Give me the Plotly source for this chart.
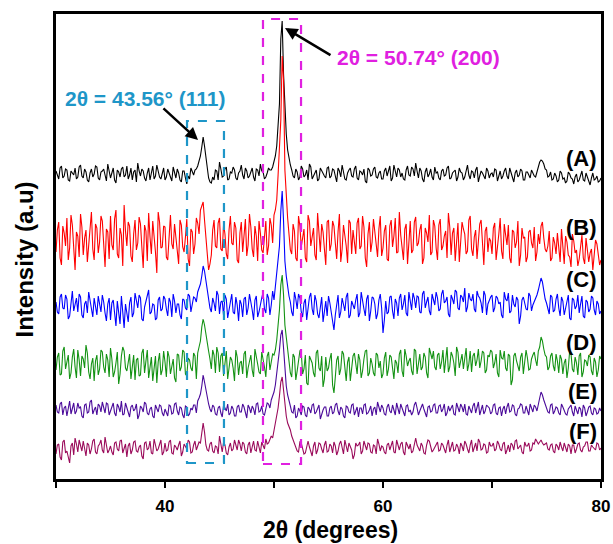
import numpy as np
import plotly.graph_objects as go

# 2-theta grid (degrees): main samples every 0.25 and the in-between samples
two_theta_main = np.round(np.arange(30, 80.001, 0.25), 3)      # 201 points
two_theta_mid = np.round(np.arange(30.125, 79.9, 0.25), 3)     # 200 points

# Stacking offsets of each pattern (a.u.)
offsets = {"A": 305, "B": 239, "C": 173, "D": 114, "E": 69, "F": 31}
colors = {"A": "#000000", "B": "#ff0000", "C": "#0000ff", "D": "#139213", "E": "#4a0a9a", "F": "#9a0a5a"}

# ---- intensities at main samples (relative to each baseline) ----
int_A = [3,-5,8,-2,4,-7,1,6,-3,9,-4,2,-8,5,0,7,-6,3,-1,10,
         -4,6,-9,2,5,-3,8,-1,-6,4,11,-2,3,-7,6,1,-5,9,-3,2,
         -6,5,-2,7,-4,1,-8,3,-10,-5,2,4,8,18,37,16,-4,-9,-6,3,
         12,-3,5,-6,2,7,-4,1,9,-5,3,-2,6,-7,4,10,2,-3,6,4,
         12,28,70,153,62,24,9,-2,5,-6,8,-3,4,10,-5,2,-7,6,1,-4,
         7,-2,4,-8,3,9,-5,1,6,-3,8,-6,2,5,-9,4,-1,7,-4,3,
         -5,6,2,-7,9,-3,4,1,-6,8,-2,5,11,-4,3,-8,6,0,-3,7,
         2,-6,5,-1,8,-4,3,-7,6,1,-3,9,-5,2,4,-8,3,-2,6,-4,
         1,5,-7,3,-2,6,-5,2,-8,4,-1,3,-6,2,-4,1,-3,8,14,10,
         4,-2,-6,1,-8,3,-5,-9,2,-4,-10,0,-6,3,-7,-3,-11,1,-5,-8,-4]

int_B = [-12,18,-25,7,22,-8,15,-30,4,26,-15,10,-5,28,-20,12,-2,19,-27,8,
         24,-10,30,-18,5,35,-6,14,-22,20,-3,16,-28,9,27,-14,6,-33,18,-7,
         13,-20,25,-9,4,-24,15,-12,21,-26,8,-4,17,30,38,5,-30,-15,20,-8,
         22,-11,6,-19,24,-5,12,-23,18,2,-16,26,-9,14,-21,7,-13,19,-6,15,
         25,40,95,184,70,22,-10,16,-18,24,-7,11,-22,19,3,-15,27,-12,8,-25,
         20,-4,14,-19,26,-9,5,-23,17,10,-14,22,-6,13,-27,18,-2,9,-17,24,
         -8,15,-21,20,4,-13,28,-5,11,-24,19,-10,23,-3,16,-18,7,25,-12,14,
         -20,21,-6,9,27,-15,12,-1,-22,18,6,-11,24,-16,10,-4,20,-25,13,2,
         -14,17,-9,22,-19,5,15,-23,8,-2,-26,12,3,-17,10,-8,-21,6,14,2,
         -12,9,-18,-3,7,-22,-6,4,-15,-27,-1,-10,-19,5,-24,-8,-13,-30,0,-16,-20]

int_C = [4,-8,12,-3,7,-10,15,1,-6,9,-12,5,14,-4,8,-9,3,11,-7,2,
         -14,6,-20,-5,10,-22,-8,3,-11,13,-2,8,-15,5,16,-6,1,-12,9,-3,
         7,-10,4,12,-7,2,-13,6,-4,10,1,8,14,22,40,25,10,-6,3,15,
         -8,5,11,-12,3,-6,9,-15,2,7,-9,12,-4,6,-11,3,14,-7,8,1,
         6,30,60,115,45,18,4,-10,7,12,-6,3,-14,9,-3,11,-8,2,-16,5,
         10,-7,-24,4,-12,8,-5,13,-9,1,6,-11,14,-3,7,-15,9,2,-8,12,
         -27,5,-6,10,-13,3,8,-4,11,-10,6,13,-2,9,-7,15,4,-5,12,1,
         8,-3,16,5,-8,11,2,14,-4,9,18,-1,7,12,-6,10,3,15,-9,6,
         11,-2,8,4,-12,7,13,-5,2,9,-18,6,3,-4,10,1,8,16,28,14,
         3,-8,9,-4,12,-10,5,-2,11,-14,6,0,-7,10,-12,4,-3,8,-9,2,-5]

int_D = [-5,12,-9,18,3,-14,8,-2,15,-11,6,20,-7,1,-16,10,-4,13,-8,5,
         17,-12,2,-19,9,14,-6,11,-3,-15,7,-10,16,4,-13,8,-1,-18,12,-5,
         3,14,-9,6,-17,10,-2,13,-11,5,-6,9,12,24,46,30,14,-4,10,18,
         -7,12,2,-14,8,-3,15,-10,4,11,-13,6,-5,16,1,-9,7,-12,13,3,
         10,25,55,90,40,16,-8,11,-15,6,13,-4,-18,9,2,-12,15,-6,-22,8,
         -3,12,-28,5,-10,14,-7,3,-16,9,-2,11,-13,6,15,-8,1,-11,10,4,
         -9,13,-4,8,-14,2,11,-6,16,-1,7,-10,14,3,-5,12,-8,17,6,-2,
         10,-4,15,8,-7,13,2,18,-3,11,5,-6,14,9,-1,16,4,12,-5,8,
         13,2,-8,15,6,-3,11,-20,9,4,-6,12,1,7,-4,10,5,14,28,16,
         8,-2,12,-6,4,10,-9,6,-3,11,-7,2,9,-12,5,-1,8,-10,3,-5,6]

int_E = [5,-3,8,2,-6,9,1,-4,7,3,-8,6,-2,10,0,-5,4,8,-3,6,
         -1,7,-6,3,9,-4,2,-7,5,1,-9,4,-2,6,-5,3,-8,2,5,-3,
         1,-6,4,-3,7,-5,2,-8,3,-4,0,5,9,16,35,20,6,-2,3,-5,
         4,-7,2,6,-3,1,-6,5,-2,3,-8,2,4,-5,7,-1,-4,3,6,10,
         18,35,60,80,38,15,4,-3,-8,2,-5,3,-7,1,5,-4,2,-9,0,3,
         -6,4,-2,7,-5,1,-8,3,-3,6,-1,-7,2,5,-4,0,-6,3,8,-2,
         2,-5,6,-3,1,7,-4,2,-6,5,0,-2,8,-5,3,1,-7,4,-1,6,
         -3,5,1,-6,4,2,-4,7,-2,3,6,-5,1,4,-3,8,0,-4,5,2,
         -2,6,-5,3,1,-4,7,-1,4,-6,2,5,-3,0,6,-2,3,8,18,10,
         4,-3,6,-1,2,-5,3,-4,1,5,-6,0,3,-7,2,-2,4,-5,1,-3,-1]

int_F = [-6,4,-12,8,-3,-15,5,10,-4,2,7,-8,3,-1,9,-6,4,-2,11,-5,
         2,-7,6,-3,8,1,-9,5,-2,7,-4,3,-11,6,0,-5,9,-3,4,-7,
         5,-2,8,-6,1,3,-8,4,-1,6,-4,7,2,5,25,3,-3,6,-5,1,
         12,-4,3,-7,5,-1,2,8,-3,4,-6,6,1,-2,7,-5,3,9,5,12,
         18,30,52,71,40,25,18,8,2,-4,5,-6,3,1,-8,6,-2,4,-5,7,
         -3,2,6,-7,4,-1,8,-4,1,-11,5,3,-6,7,-2,4,-5,2,9,-3,
         1,-6,5,3,-4,8,-2,6,-7,2,4,-3,10,-1,5,-5,3,7,-4,1,
         6,-2,3,-5,8,1,-3,4,-6,2,7,-1,3,-4,5,9,-2,4,-5,6,
         2,-3,7,-1,4,-6,3,5,-2,8,1,-4,6,2,-3,5,9,4,8,3,
         5,-2,4,-5,2,6,-3,1,4,-6,3,-1,5,-4,2,6,-3,1,-2,4,0]

# ---- intensities at in-between samples ----
mid_A = [-2,6,-4,5,-6,3,-1,-5,7,-2,5,-6,1,-3,8,-4,2,5,-7,3,
         1,-6,4,-3,7,-1,-5,6,2,-8,3,5,-4,1,-6,8,-2,4,-5,6,
         -3,1,-7,2,5,-6,3,-4,-2,6,-1,5,12,27,28,3,-8,-3,4,-6,
         5,-2,7,-5,1,4,-6,3,-1,6,-4,2,-3,5,-2,3,-5,1,4,7,
         18,45,135,100,40,14,4,-4,2,-3,5,-1,-6,7,-2,4,-5,3,-2,6,
         -4,5,-1,6,-3,2,-6,4,-2,5,-4,3,-1,-7,6,-2,5,-3,1,-5,
         3,-2,8,-4,1,6,-3,-5,4,-1,7,-2,3,6,-5,2,-3,5,-6,1,
         -4,3,-2,6,-5,1,4,-3,2,-6,5,-1,3,-4,7,-2,1,-5,3,0,
         -3,4,-1,-5,3,-2,6,-4,1,-3,5,-6,2,-1,4,-2,3,12,13,5,
         -3,2,-5,-2,-6,1,-4,-7,0,-5,-3,-8,-2,-6,1,-9,-4,-6,-2,-7]

mid_B = [10,-18,14,-6,-20,25,-11,8,-17,13,2,-22,19,-9,16,-13,24,-4,11,-19,
         -5,21,-14,12,-26,9,18,-16,6,-10,23,-7,15,-21,3,19,-12,28,-8,14,
         -17,9,-4,16,-13,20,-7,3,-19,11,-14,22,6,34,20,-18,-24,10,-6,17,
         -9,16,-14,10,-3,18,-20,7,-12,21,-5,13,-17,4,19,-10,8,-15,22,-3,
         30,65,120,160,40,6,-14,9,-21,14,2,-18,25,-6,12,-20,5,16,-9,18,
         -11,19,-3,8,-22,15,-6,20,-14,-2,17,-9,24,-18,6,-12,21,-5,11,-16,
         9,-19,14,-7,22,-12,5,-20,16,3,-13,18,-6,10,-24,12,-2,-15,20,-8,
         15,-10,4,-18,13,7,-21,17,-4,11,-14,20,-9,3,-19,16,-7,9,-12,-1,
         12,-20,6,-11,16,-5,-18,10,-8,19,-15,2,-22,8,-3,13,-12,-4,18,-9,
         -6,-21,3,-14,-9,11,-24,-2,-17,6,-13,-26,-5,-18,2,-22,-9,-15,-4,-25]

mid_C = [-6,9,-2,11,-13,4,-5,8,12,-9,2,-7,6,-11,1,10,-6,4,-15,8,
         3,-11,5,-18,-4,2,-16,9,-7,4,11,-13,-1,9,-8,2,-14,6,-5,10,
         -3,8,-11,5,2,-9,7,-2,12,-6,9,4,18,30,35,15,-2,8,-5,11,
         4,-10,7,-3,12,-8,1,6,-11,9,-2,5,-14,10,-6,8,-3,12,-9,15,
         18,45,95,85,30,10,-6,14,-3,8,-11,7,-2,13,-9,5,-12,9,-4,-10,
         3,-18,-9,11,-6,2,9,-12,5,-3,12,-7,4,-10,11,-5,8,-13,6,-2,
         -14,-8,9,-5,7,-10,12,2,-7,14,-4,8,10,-6,12,-2,9,-9,6,14,
         -5,12,3,9,-11,7,16,-2,11,4,-6,13,5,-3,15,8,-7,11,2,9,
         -6,10,2,-9,14,5,-7,11,-1,6,-10,9,-3,13,-5,4,11,22,24,7,
         -4,11,-6,7,-2,9,-9,4,-12,8,-3,11,2,-10,6,-6,10,-4,5,-8]

mid_D = [8,-10,14,-4,10,-8,16,-13,5,9,-3,12,-14,7,4,-10,15,-2,11,-12,
         6,-7,13,-9,18,-3,2,-14,10,5,-11,12,-8,15,-4,-16,9,3,-10,14,
         -12,8,1,-13,11,-6,15,-9,7,-3,12,-14,18,38,40,20,6,15,-8,12,
         9,-11,14,-4,5,-16,8,2,-9,14,-3,10,-12,6,-7,13,-2,9,-5,11,
         15,40,80,70,28,4,-12,8,-6,14,-9,10,-20,5,-8,12,-3,9,-14,-6,
         6,-20,-12,9,-4,11,-16,8,-2,12,-9,5,-6,14,-11,7,-8,12,-3,-13,
         7,-11,10,-2,5,-8,15,-12,9,4,-6,16,-9,11,-2,8,-13,10,14,-5,
         12,3,-8,18,-2,9,-11,13,6,-4,17,1,-7,12,5,-3,14,-8,10,15,
         -3,11,-12,7,14,-6,9,-15,12,-2,8,-9,15,-5,6,13,-1,18,24,10,
         -5,9,-1,11,-8,6,2,-13,14,-4,8,-10,12,-7,4,10,-6,7,-12,9]

mid_E = [-2,6,-5,4,3,-4,7,-1,2,-6,5,-3,8,-4,3,6,-2,1,7,-5,
         4,-3,6,-2,-5,7,-4,3,-1,6,-5,2,8,-3,1,-6,5,-2,4,-6,
         -2,5,-4,6,-1,3,-5,4,-6,2,5,-3,12,24,28,10,1,5,-4,2,
         -3,5,-1,-5,4,-6,3,-2,6,-4,5,-3,1,6,-2,4,-5,7,2,14,
         25,50,75,62,24,8,-2,5,-6,-1,4,-5,3,-3,6,-2,5,-4,3,-6,
         2,-4,5,-1,3,-6,4,-2,5,-5,3,2,-4,6,-3,4,1,-5,3,5,
         -4,3,-1,5,-5,2,6,-3,4,-2,-5,5,2,-1,6,-4,3,-2,5,-3,
         4,-2,6,-3,-1,5,-5,3,6,-2,-4,4,-3,7,2,-5,5,-1,3,-4,
         5,-3,2,-6,4,3,-2,5,-4,1,6,-3,4,-5,2,5,-1,12,15,6,
         -2,5,-4,3,-3,6,-1,-5,3,-2,4,-4,1,5,-6,3,-3,2,-4,2]

mid_F = [3,-9,6,-5,-10,2,-7,4,8,-3,-1,5,-6,7,-4,2,8,-5,3,-2,
         -4,5,-1,7,-5,4,2,-6,6,-3,1,-8,5,-2,7,-6,3,-1,8,-4,
         -3,6,-5,3,-2,7,-4,2,8,-5,3,-2,6,14,16,-2,4,-3,2,-6,
         4,6,-5,1,-3,8,-2,4,6,-4,3,-5,7,-3,2,6,-1,4,8,10,
         24,40,66,58,32,22,12,5,-3,6,-2,-5,7,-3,2,-6,5,-1,3,-4,
         4,-5,2,-3,7,-6,3,5,-2,-7,2,6,-3,1,5,-4,3,-6,4,2,
         -4,3,-2,7,-5,2,4,-4,6,-1,-5,6,3,-3,2,-6,8,1,-2,4,
         -3,5,-1,3,-4,6,-2,1,5,-3,4,-5,8,2,-3,6,-1,3,-4,2,
         5,-1,4,-3,6,-2,-4,3,7,-1,3,-6,2,5,-2,4,7,6,5,4,
         -1,3,-3,4,-2,1,5,-4,2,3,-5,4,-2,1,6,-3,3,-1,5,-2]

main = {"A": int_A, "B": int_B, "C": int_C, "D": int_D, "E": int_E, "F": int_F}
mids = {"A": mid_A, "B": mid_B, "C": mid_C, "D": mid_D, "E": mid_E, "F": mid_F}
for k in main:
    assert len(main[k]) == len(two_theta_main), (k, len(main[k]))
    assert len(mids[k]) == len(two_theta_mid), (k, len(mids[k]))

x_all = np.concatenate([two_theta_main, two_theta_mid])
order = np.argsort(x_all)
x_all = x_all[order]

FONT = "Liberation Sans"
fig = go.Figure()
for k in ["A", "B", "C", "D", "E", "F"]:
    y = np.concatenate([np.array(main[k]), np.array(mids[k])])[order] + offsets[k]
    fig.add_trace(go.Scatter(x=x_all, y=y, mode="lines",
                             line=dict(color=colors[k], width=1.1), showlegend=False))

# dashed highlight boxes
fig.add_shape(type="rect", x0=42.02, x1=45.41, y0=16, y1=358,
              line=dict(color="#1e96c8", width=2.2, dash="dash"))
fig.add_shape(type="rect", x0=48.99, x1=52.48, y0=15, y1=460,
              line=dict(color="#e020e0", width=2.2, dash="dash"))

ann = []
label_y = {"A": 321, "B": 252, "C": 200, "D": 137, "E": 88, "F": 48}
for k, yy in label_y.items():
    ann.append(dict(x=79.82, y=yy, text="<b>(%s)</b>" % k, showarrow=False,
                    xanchor="right", yanchor="middle",
                    font=dict(family=FONT, size=22, color="black")))
ann.append(dict(x=55.6, y=422, text="<b>2θ = 50.74° (200)</b>", showarrow=False,
                xanchor="left", yanchor="middle",
                font=dict(family=FONT, size=21, color="#e020e0")))
ann.append(dict(x=30.64, y=381, text="<b>2θ = 43.56° (111)</b>", showarrow=False,
                xanchor="left", yanchor="middle",
                font=dict(family=FONT, size=21, color="#1e96c8")))
# arrows
ann.append(dict(x=51.01, y=451, ax=55.32, ay=423, axref="x", ayref="y", text="",
                showarrow=True, arrowhead=2, arrowsize=1, arrowwidth=2.5, arrowcolor="black"))
ann.append(dict(x=43.03, y=339, ax=39.72, ay=372, axref="x", ayref="y", text="",
                showarrow=True, arrowhead=2, arrowsize=1, arrowwidth=2.5, arrowcolor="black"))
# axis titles
ann.append(dict(xref="paper", yref="paper", x=0.503, y=-0.11, text="<b>2θ (degrees)</b>",
                showarrow=False, xanchor="center", yanchor="middle",
                font=dict(family=FONT, size=23, color="black")))
ann.append(dict(xref="paper", yref="paper", x=-0.057, y=0.472, text="<b>Intensity (a.u)</b>",
                showarrow=False, xanchor="center", yanchor="middle", textangle=-90,
                font=dict(family=FONT, size=24, color="black")))

fig.update_layout(
    width=613, height=544,
    margin=dict(l=56, r=12, t=14, b=65, autoexpand=False),
    paper_bgcolor="white", plot_bgcolor="white",
    annotations=ann,
    xaxis=dict(range=[30, 80], showgrid=False, zeroline=False, automargin=False,
               showline=True, linewidth=2.5, linecolor="black", mirror=True,
               ticks="outside", ticklen=6, tickwidth=2, tickcolor="black",
               tickvals=[30, 40, 50, 60, 70, 80],
               ticktext=["", "<b>40</b>", "", "<b>60</b>", "", "<b>80</b>"],
               ticklabelstandoff=4,
               tickfont=dict(family=FONT, size=17, color="black")),
    yaxis=dict(range=[0, 465], showgrid=False, zeroline=False, automargin=False,
               showline=True, linewidth=2.5, linecolor="black", mirror=True,
               showticklabels=False, ticks=""),
)

fig.write_html("out.html")
